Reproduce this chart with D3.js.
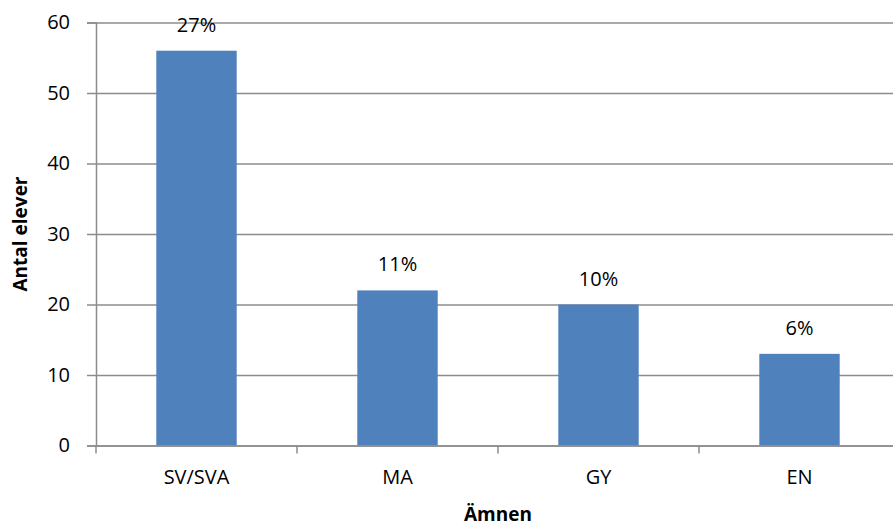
<!DOCTYPE html>
<html>
<head>
<meta charset="utf-8">
<script src="https://cdn.jsdelivr.net/npm/d3@7"></script>
<style>
  body { margin: 0; background: #fff; }
  svg text { font-family: "Open Sans", "Noto Sans", sans-serif; fill: #000; }
</style>
</head>
<body>
<div id="chart"></div>
<script>
var categories = ["SV/SVA", "MA", "GY", "EN"];
var values = [56, 22, 20, 13];
var percentLabels = ["27%", "11%", "10%", "6%"];
var yTicks = [0, 10, 20, 30, 40, 50, 60];

var totalWidth = 893, totalHeight = 531;
var margin = {left: 96, top: 22.5, right: -7, bottom: 85.5};
var width = totalWidth - margin.left - margin.right;
var height = totalHeight - margin.top - margin.bottom;
var gridColor = "#8c8c8c";
var fontSize = "20px";

var svg = d3.select("#chart").append("svg")
    .attr("width", totalWidth)
    .attr("height", totalHeight)
  .append("g")
    .attr("transform", "translate(" + margin.left + "," + margin.top + ")");

// scales
var x = d3.scaleBand().domain(categories).range([0, width]).paddingInner(0).paddingOuter(0);
var y = d3.scaleLinear().domain([0, 60]).range([height, 0]);
var barWidth = x.bandwidth() * 0.4;

// horizontal gridlines
svg.append("g")
    .attr("class", "grid")
    .call(d3.axisLeft(y).tickValues(yTicks).tickSize(-width).tickFormat(""))
    .call(function(g) { g.select(".domain").remove(); })
    .selectAll("line")
    .style("stroke", gridColor)
    .style("stroke-width", 1.5);

// bars
svg.selectAll(".bar")
    .data(values)
  .enter().append("rect")
    .attr("class", "bar")
    .attr("x", function(d, i) { return x(categories[i]) + (x.bandwidth() - barWidth) / 2; })
    .attr("width", barWidth)
    .attr("y", function(d) { return y(d); })
    .attr("height", function(d) { return height - y(d); })
    .style("fill", "#4f81bd");

// value labels
svg.selectAll(".val")
    .data(values)
  .enter().append("text")
    .attr("class", "val")
    .attr("x", function(d, i) { return x(categories[i]) + x.bandwidth() / 2; })
    .attr("y", function(d) { return y(d) - 26; })
    .attr("dy", "0.35em")
    .style("text-anchor", "middle")
    .style("font-size", fontSize)
    .text(function(d, i) { return percentLabels[i]; });

// y axis
var yAxis = svg.append("g")
    .call(d3.axisLeft(y).tickValues(yTicks).tickSize(9).tickPadding(17));
yAxis.selectAll("text").style("font-size", fontSize).style("font-family", "'Open Sans', sans-serif");
yAxis.selectAll("line, path").style("stroke", gridColor).style("stroke-width", 1.5);

// x axis: tick marks at category boundaries
var xAxis = svg.append("g")
    .attr("transform", "translate(0," + height + ")")
    .call(d3.axisBottom(x).tickSize(0).tickPadding(24));
xAxis.select(".domain").style("stroke", gridColor).style("stroke-width", 1.5);
xAxis.selectAll("text").style("font-size", fontSize).style("font-family", "'Open Sans', sans-serif");

svg.append("g")
    .selectAll("line")
    .data(categories)
  .enter().append("line")
    .attr("x1", function(d) { return x(d); })
    .attr("x2", function(d) { return x(d); })
    .attr("y1", height)
    .attr("y2", height + 8)
    .style("stroke", gridColor)
    .style("stroke-width", 1.5);

// axis titles
svg.append("text")
    .attr("x", 498 - margin.left)
    .attr("y", 514 - margin.top)
    .attr("dy", "0.35em")
    .style("text-anchor", "middle")
    .style("font-weight", "bold")
    .style("font-size", "19px")
    .text("Ämnen");

svg.append("text")
    .attr("transform", "rotate(-90)")
    .attr("x", -(234 - margin.top))
    .attr("y", 20 - margin.left)
    .attr("dy", "0.35em")
    .style("text-anchor", "middle")
    .style("font-weight", "bold")
    .style("font-size", "19px")
    .text("Antal elever");
</script>
</body>
</html>
